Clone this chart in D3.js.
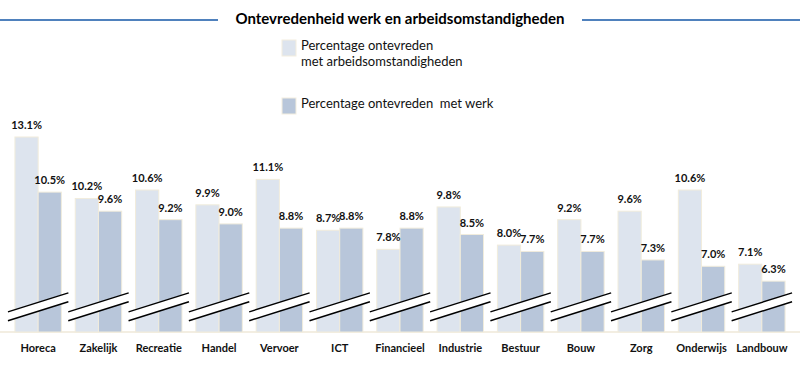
<!DOCTYPE html>
<html lang="nl">
<head>
<meta charset="UTF-8">
<title>Ontevredenheid werk en arbeidsomstandigheden</title>
<script src="https://d3js.org/d3.v7.min.js"></script>
<style>
  body { margin: 0; background: #fff; }
  svg { display: block; font-family: Lato, "Open Sans", sans-serif; }
</style>
</head>
<body>
<svg width="800" height="370"></svg>
<script>
// data
const sectors = ["Horeca", "Zakelijk", "Recreatie", "Handel", "Vervoer", "ICT", "Financieel",
  "Industrie", "Bestuur", "Bouw", "Zorg", "Onderwijs", "Landbouw"];
const arbeidsomst = [13.1, 10.2, 10.6, 9.9, 11.1, 8.7, 7.8, 9.8, 8.0, 9.2, 9.6, 10.6, 7.1];
const werk = [10.5, 9.6, 9.2, 9.0, 8.8, 8.8, 8.8, 8.5, 7.7, 7.7, 7.3, 7.0, 6.3];
const seriesNames = ["Percentage ontevreden\nmet arbeidsomstandigheden", "Percentage ontevreden  met werk"];
const colors = ["#dde4ee", "#b8c6da"];

const svg = d3.select("svg");
const W = 800;

// title with lines on both sides
svg.append("line").attr("x1", 0).attr("x2", 218).attr("y1", 20).attr("y2", 20)
  .attr("stroke", "#4f81bd").attr("stroke-width", 2);
svg.append("line").attr("x1", 582).attr("x2", W).attr("y1", 20).attr("y2", 20)
  .attr("stroke", "#4f81bd").attr("stroke-width", 2);
svg.append("text").attr("x", 400).attr("y", 24).attr("text-anchor", "middle")
  .attr("font-weight", "bold").attr("font-size", 15).attr("fill", "#000")
  .text("Ontevredenheid werk en arbeidsomstandigheden");

// legend
const legend = svg.append("g");
const legendY = [40, 98];
seriesNames.forEach((name, i) => {
  legend.append("rect").attr("x", 282).attr("y", legendY[i]).attr("width", 14).attr("height", 16)
    .attr("fill", colors[i]).attr("stroke", "#f3eedf").attr("stroke-width", 1);
  name.split("\n").forEach((line, j) => {
    legend.append("text").attr("x", 301).attr("y", legendY[i] + 10 + j * 16)
      .attr("font-size", 13).attr("fill", "#111").attr("xml:space", "preserve").text(line);
  });
});

// scales
const x = d3.scaleBand().domain(sectors).range([8, 792]).paddingInner(0.23).paddingOuter(0.115);
const xs = d3.scaleBand().domain([0, 1]).range([0, x.bandwidth()]);
const y = d3.scaleLinear().domain([3.9, 13.1]).range([332, 137]);

const rows = sectors.map((s, i) => ({ sector: s, vals: [arbeidsomst[i], werk[i]] }));

// baseline
svg.append("line").attr("x1", 0).attr("x2", W).attr("y1", y(3.9)).attr("y2", y(3.9))
  .attr("stroke", "#efe9d8").attr("stroke-width", 1.5);

const groups = svg.selectAll("g.grp").data(rows).join("g").attr("class", "grp")
  .attr("transform", d => `translate(${x(d.sector)},0)`);

groups.selectAll("rect").data(d => d.vals.map((v, k) => ({ v, k }))).join("rect")
  .attr("x", d => xs(d.k)).attr("width", xs.bandwidth())
  .attr("y", d => y(d.v)).attr("height", d => y(3.9) - y(d.v))
  .attr("fill", d => colors[d.k]).attr("stroke", "#f1ecdc").attr("stroke-width", 1);

groups.selectAll("text.val").data(d => d.vals.map((v, k) => ({ v, k }))).join("text")
  .attr("class", "val")
  .attr("x", d => xs(d.k) + xs.bandwidth() / 2).attr("y", d => y(d.v) - 8)
  .attr("text-anchor", "middle").attr("font-weight", "bold").attr("font-size", 11)
  .attr("fill", "#111").text(d => d.v.toFixed(1) + "%");

// axis break marks
const half = x.bandwidth() / 2 + 7;
const brk = [5.3, 4.88];
groups.each(function () {
  const g = d3.select(this), cx = x.bandwidth() / 2;
  const yA = y(brk[0]), yB = y(brk[1]), dy = 9.5;
  g.append("path")
    .attr("d", `M${cx - half},${yA + dy} L${cx + half},${yA - dy} L${cx + half},${yB - dy} L${cx - half},${yB + dy} Z`)
    .attr("fill", "#fff");
  [yA, yB].forEach(yy => g.append("line")
    .attr("x1", cx - half).attr("x2", cx + half).attr("y1", yy + dy).attr("y2", yy - dy)
    .attr("stroke", "#000").attr("stroke-width", 1.4));
});

// category labels
groups.append("text").attr("x", x.bandwidth() / 2).attr("y", 352)
  .attr("text-anchor", "middle").attr("font-weight", "bold").attr("font-size", 11)
  .attr("fill", "#111").text(d => d.sector);
</script>
</body>
</html>
